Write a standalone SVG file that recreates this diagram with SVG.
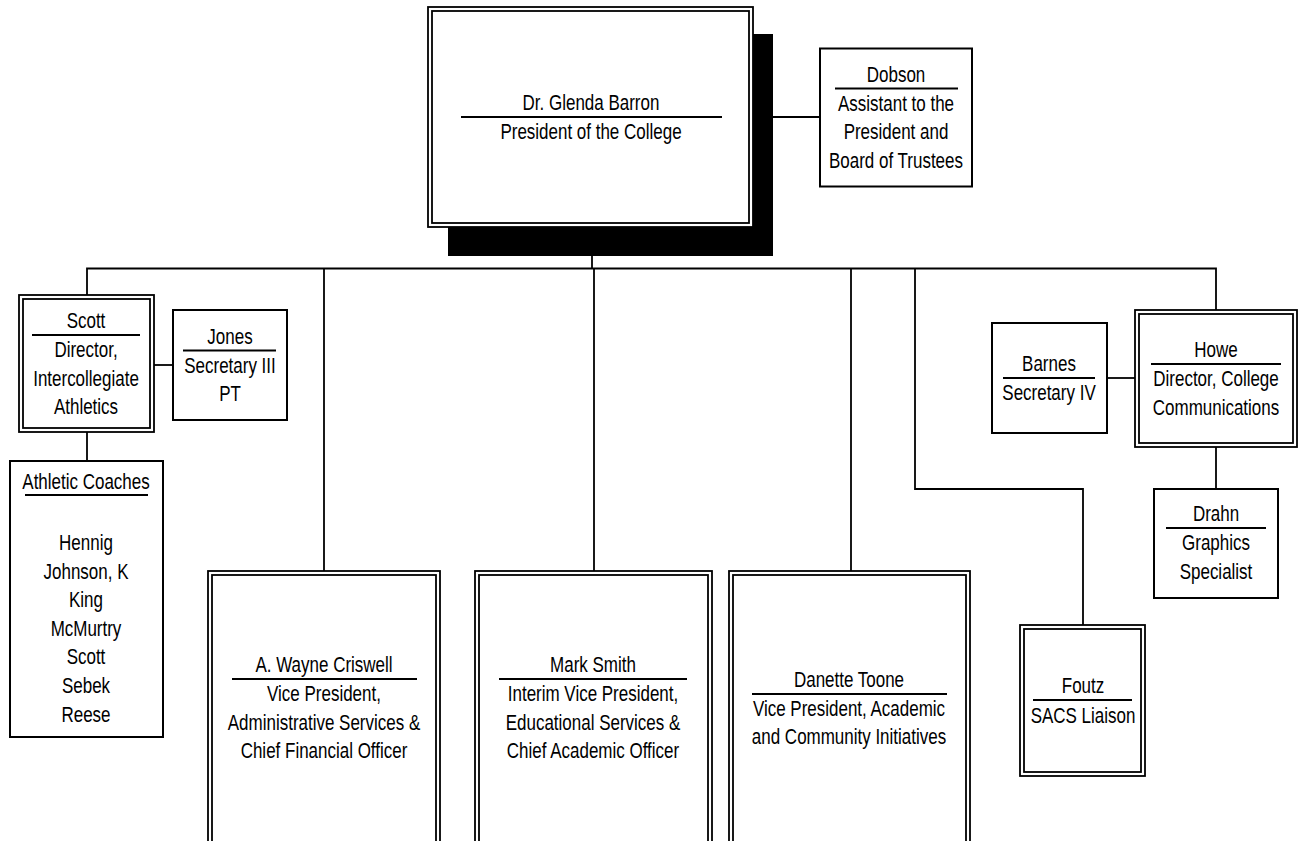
<svg xmlns="http://www.w3.org/2000/svg" width="1299" height="841" viewBox="0 0 1299 841">
<style>
.bg{fill:#fff}
.box{fill:#fff;stroke:#000;stroke-width:2}
.outer{fill:#fff;stroke:#000;stroke-width:1.8}
.inner{fill:none;stroke:#000;stroke-width:1.8}
.rule{stroke:#000;stroke-width:2}
.con{fill:none;stroke:#000;stroke-width:1.8}
text{font-family:"Liberation Sans",Arial,sans-serif;font-size:21.5px;fill:#000;text-anchor:middle}
</style>
<rect class="bg" x="0" y="0" width="1299" height="841"/>
<g id="connectors">
<line class="con" x1="592" y1="227" x2="592" y2="268.5"/>
<line class="con" x1="753" y1="117" x2="820" y2="117"/>
<polyline class="con" points="87,295 87,268.5 1216,268.5 1216,310"/>
<line class="con" x1="324" y1="268.5" x2="324" y2="571"/>
<line class="con" x1="594" y1="268.5" x2="594" y2="571"/>
<line class="con" x1="851" y1="268.5" x2="851" y2="571"/>
<polyline class="con" points="915,268.5 915,489 1083,489 1083,625"/>
<line class="con" x1="154" y1="365" x2="173" y2="365"/>
<line class="con" x1="87" y1="432" x2="87" y2="461"/>
<line class="con" x1="1107" y1="378" x2="1135" y2="378"/>
<line class="con" x1="1216" y1="447" x2="1216" y2="489"/>
</g>
<g id="president">
<rect x="448" y="34" width="325" height="222" fill="#000"/>
<rect class="outer" x="428" y="7" width="325" height="220"/>
<rect class="inner" x="432" y="11" width="317" height="212"/>
<text transform="translate(591,110) scale(0.79,1)">Dr. Glenda Barron</text>
<line class="rule" x1="461" y1="117" x2="722" y2="117"/>
<text transform="translate(591,139) scale(0.79,1)">President of the College</text>
</g>
<g id="dobson">
<rect class="box" x="820" y="48.5" width="152" height="138"/>
<text transform="translate(896,81.5) scale(0.79,1)">Dobson</text>
<line class="rule" x1="835" y1="88.5" x2="958" y2="88.5"/>
<text transform="translate(896,110.5) scale(0.79,1)">Assistant to the</text>
<text transform="translate(896,139) scale(0.79,1)">President and</text>
<text transform="translate(896,167.5) scale(0.79,1)">Board of Trustees</text>
</g>
<g id="scott">
<rect class="outer" x="19" y="295" width="135" height="137"/>
<rect class="inner" x="23" y="299" width="127" height="129"/>
<text transform="translate(86,328) scale(0.79,1)">Scott</text>
<line class="rule" x1="32" y1="335" x2="140" y2="335"/>
<text transform="translate(86,357) scale(0.79,1)">Director,</text>
<text transform="translate(86,385.5) scale(0.79,1)">Intercollegiate</text>
<text transform="translate(86,414) scale(0.79,1)">Athletics</text>
</g>
<g id="jones">
<rect class="box" x="173" y="310" width="114" height="110"/>
<text transform="translate(230,343.5) scale(0.79,1)">Jones</text>
<line class="rule" x1="183" y1="350.5" x2="276" y2="350.5"/>
<text transform="translate(230,372.5) scale(0.79,1)">Secretary III</text>
<text transform="translate(230,401) scale(0.79,1)">PT</text>
</g>
<g id="coaches">
<rect class="box" x="10" y="461" width="153" height="276"/>
<text transform="translate(86,488.5) scale(0.79,1)">Athletic Coaches</text>
<line class="rule" x1="25" y1="495" x2="148" y2="495"/>
<text transform="translate(86,550) scale(0.79,1)">Hennig</text>
<text transform="translate(86,578.5) scale(0.79,1)">Johnson, K</text>
<text transform="translate(86,607) scale(0.79,1)">King</text>
<text transform="translate(86,635.5) scale(0.79,1)">McMurtry</text>
<text transform="translate(86,664) scale(0.79,1)">Scott</text>
<text transform="translate(86,692.5) scale(0.79,1)">Sebek</text>
<text transform="translate(86,721.5) scale(0.79,1)">Reese</text>
</g>
<g id="criswell">
<rect class="outer" x="208" y="571" width="232" height="280"/>
<rect class="inner" x="212" y="575" width="224" height="280"/>
<text transform="translate(324,672) scale(0.79,1)">A. Wayne Criswell</text>
<line class="rule" x1="232" y1="679" x2="417" y2="679"/>
<text transform="translate(324,701) scale(0.79,1)">Vice President,</text>
<text transform="translate(324,729.5) scale(0.79,1)">Administrative Services &amp;</text>
<text transform="translate(324,758) scale(0.79,1)">Chief Financial Officer</text>
</g>
<g id="smith">
<rect class="outer" x="475" y="571" width="237" height="280"/>
<rect class="inner" x="479" y="575" width="229" height="280"/>
<text transform="translate(593,672) scale(0.79,1)">Mark Smith</text>
<line class="rule" x1="499" y1="679" x2="687" y2="679"/>
<text transform="translate(593,701) scale(0.79,1)">Interim Vice President,</text>
<text transform="translate(593,729.5) scale(0.79,1)">Educational Services &amp;</text>
<text transform="translate(593,758) scale(0.79,1)">Chief Academic Officer</text>
</g>
<g id="toone">
<rect class="outer" x="729" y="571" width="241" height="280"/>
<rect class="inner" x="733" y="575" width="233" height="280"/>
<text transform="translate(849,687) scale(0.79,1)">Danette Toone</text>
<line class="rule" x1="752" y1="694" x2="947" y2="694"/>
<text transform="translate(849,715.5) scale(0.79,1)">Vice President, Academic</text>
<text transform="translate(849,744) scale(0.79,1)">and Community Initiatives</text>
</g>
<g id="foutz">
<rect class="outer" x="1020" y="625" width="125" height="151"/>
<rect class="inner" x="1024" y="629" width="117" height="143"/>
<text transform="translate(1083,693) scale(0.79,1)">Foutz</text>
<line class="rule" x1="1033" y1="700" x2="1132" y2="700"/>
<text transform="translate(1083,722.5) scale(0.79,1)">SACS Liaison</text>
</g>
<g id="barnes">
<rect class="box" x="992" y="323" width="115" height="110"/>
<text transform="translate(1049,371) scale(0.79,1)">Barnes</text>
<line class="rule" x1="1003" y1="378" x2="1095" y2="378"/>
<text transform="translate(1049,400) scale(0.79,1)">Secretary IV</text>
</g>
<g id="howe">
<rect class="outer" x="1135" y="310" width="162" height="137"/>
<rect class="inner" x="1139" y="314" width="154" height="129"/>
<text transform="translate(1216,357) scale(0.79,1)">Howe</text>
<line class="rule" x1="1151" y1="364" x2="1281" y2="364"/>
<text transform="translate(1216,386) scale(0.79,1)">Director, College</text>
<text transform="translate(1216,414.5) scale(0.79,1)">Communications</text>
</g>
<g id="drahn">
<rect class="box" x="1154" y="489" width="124" height="109"/>
<text transform="translate(1216,521) scale(0.79,1)">Drahn</text>
<line class="rule" x1="1166" y1="528" x2="1266" y2="528"/>
<text transform="translate(1216,550) scale(0.79,1)">Graphics</text>
<text transform="translate(1216,578.5) scale(0.79,1)">Specialist</text>
</g>
</svg>
